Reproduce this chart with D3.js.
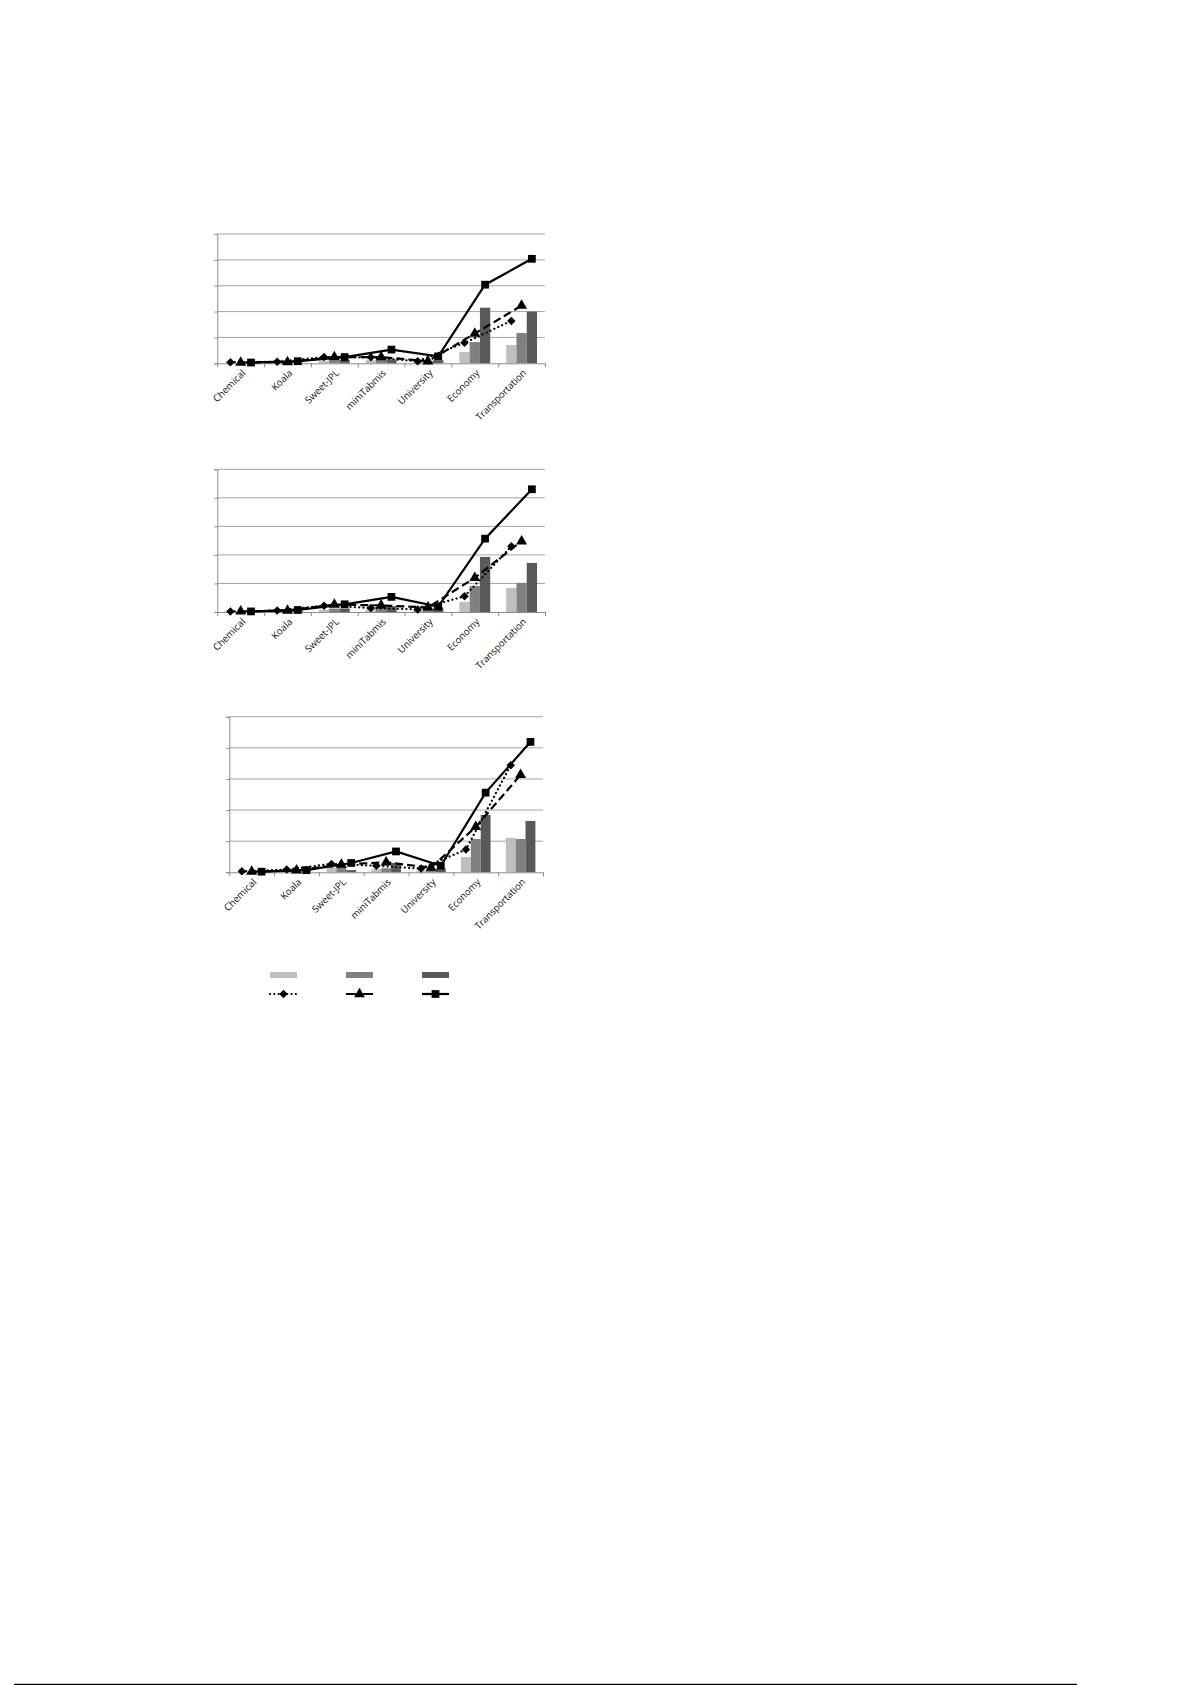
<!DOCTYPE html>
<html>
<head>
<meta charset="utf-8">
<script src="https://cdn.jsdelivr.net/npm/d3@7"></script>
<style>
  body { margin: 0; background: #fff; }
  svg { display: block; }
</style>
</head>
<body>
<script>
// categories along the x axis (same for all three panels)
var categories = ["Chemical", "Koala", "Sweet-JPL", "miniTabmis", "University", "Economy", "Transportation"];

// panel 1 (top)
var p1Light = [0.01, 0.02, 0.10, 0.12, 0.05, 0.44, 0.71];
var p1Mid   = [0.01, 0.02, 0.12, 0.15, 0.08, 0.82, 1.17];
var p1Dark  = [0.02, 0.03, 0.12, 0.15, 0.12, 2.15, 2.00];
var p1Dot   = [0.04, 0.06, 0.24, 0.23, 0.08, 0.79, 1.64];
var p1Dash  = [0.03, 0.05, 0.24, 0.24, 0.08, 1.15, 2.23];
var p1Solid = [0.03, 0.08, 0.24, 0.53, 0.27, 3.04, 4.04];

// panel 2 (middle)
var p2Light = [0.01, 0.02, 0.08, 0.10, 0.06, 0.35, 0.84];
var p2Mid   = [0.01, 0.02, 0.12, 0.16, 0.10, 0.91, 1.02];
var p2Dark  = [0.02, 0.03, 0.12, 0.20, 0.16, 1.93, 1.72];
var p2Dot   = [0.02, 0.05, 0.22, 0.14, 0.09, 0.55, 2.30];
var p2Dash  = [0.02, 0.05, 0.26, 0.23, 0.16, 1.20, 2.48];
var p2Solid = [0.02, 0.07, 0.27, 0.53, 0.19, 2.57, 4.30];

// panel 3 (bottom)
var p3Light = [0.01, 0.02, 0.15, 0.10, 0.05, 0.49, 1.11];
var p3Mid   = [0.01, 0.02, 0.18, 0.13, 0.08, 1.07, 1.07];
var p3Dark  = [0.02, 0.03, 0.07, 0.30, 0.12, 1.84, 1.65];
var p3Dot   = [0.03, 0.09, 0.27, 0.21, 0.12, 0.73, 3.44];
var p3Dash  = [0.02, 0.06, 0.25, 0.32, 0.15, 1.46, 3.13];
var p3Solid = [0.02, 0.07, 0.30, 0.67, 0.21, 2.56, 4.19];

var yTicks = [0, 1, 2, 3, 4, 5];

var barColors = ["#bfbfbf", "#808080", "#595959"];
var lineDash = ["0.1,4.2", "8,4", null];
var legendDash = ["0.1,4.2", "10,7", null];
// diamond = square turned 45 degrees (wider than d3's own diamond)
var markerShapes = [d3.symbolSquare, d3.symbolTriangle, d3.symbolSquare];
var markerSizes = [36, 52, 60];
var markerTurn = [45, 0, 0];

var W = 1192, H = 1685;
var svg = d3.select("body").append("svg")
    .attr("width", W)
    .attr("height", H);

var panels = [
  { x0: 217.3, x1: 545, top: 234, base: 363.3, bars: [p1Light, p1Mid, p1Dark], lines: [p1Dot, p1Dash, p1Solid] },
  { x0: 217.3, x1: 545, top: 469.3, base: 612, bars: [p2Light, p2Mid, p2Dark], lines: [p2Dot, p2Dash, p2Solid] },
  { x0: 229.3, x1: 543, top: 716.7, base: 872.3, bars: [p3Light, p3Mid, p3Dark], lines: [p3Dot, p3Dash, p3Solid] }
];

function marker(sel, si) {
  sel.attr("d", d3.symbol().type(markerShapes[si]).size(markerSizes[si]))
     .attr("fill", "#000");
}

panels.forEach(function(p) {
  var g = svg.append("g");

  var x = d3.scaleBand()
      .domain(categories)
      .range([p.x0, p.x1])
      .paddingInner(0.34)
      .paddingOuter(0.17);
  var xs = d3.scaleBand()
      .domain([0, 1, 2])
      .range([0, x.bandwidth()]);
  var y = d3.scaleLinear()
      .domain([0, 5])
      .range([p.base, p.top]);

  // gridlines
  g.selectAll("line.grid")
      .data(yTicks.slice(1))
      .enter()
      .append("line")
      .attr("class", "grid")
      .attr("x1", p.x0)
      .attr("x2", p.x1)
      .attr("y1", function(d){ return y(d); })
      .attr("y2", function(d){ return y(d); })
      .attr("stroke", "#a6a6a6")
      .attr("stroke-width", 1);

  // bars
  p.bars.forEach(function(series, si) {
    g.selectAll("rect.s" + si)
        .data(series)
        .enter()
        .append("rect")
        .attr("class", "s" + si)
        .attr("x", function(d, i){ return x(categories[i]) + xs(si); })
        .attr("width", xs.bandwidth())
        .attr("y", function(d){ return y(d); })
        .attr("height", function(d){ return p.base - y(d); })
        .attr("fill", barColors[si]);
  });

  // y axis: line + small ticks on the left, no labels
  var yAxis = d3.axisLeft(y)
      .tickValues(yTicks)
      .tickSize(3)
      .tickFormat("");
  g.append("g")
      .attr("transform", "translate(" + p.x0 + ",0)")
      .call(yAxis)
      .call(function(a){
        a.select(".domain").attr("stroke", "#8c8c8c");
        a.selectAll(".tick line").attr("stroke", "#8c8c8c");
      });

  // x axis: ticks between categories
  var xb = d3.scaleLinear().domain([0, categories.length]).range([p.x0, p.x1]);
  var xAxis = d3.axisBottom(xb)
      .tickValues(d3.range(0, categories.length + 1))
      .tickSize(4)
      .tickSizeOuter(0)
      .tickFormat("");
  g.append("g")
      .attr("transform", "translate(0," + p.base + ")")
      .call(xAxis)
      .call(function(a){
        a.select(".domain").attr("stroke", "#8c8c8c");
        a.selectAll(".tick line").attr("stroke", "#8c8c8c");
      });

  // category labels, rotated
  g.selectAll("text.cat")
      .data(categories)
      .enter()
      .append("text")
      .attr("class", "cat")
      .attr("text-anchor", "end")
      .attr("transform", function(d){
        return "translate(" + (x(d) + x.bandwidth() / 2 + 3) + "," + (p.base + 8) + ") rotate(-45)";
      })
      .attr("dy", "0.35em")
      .style("font-family", "'Open Sans', sans-serif")
      .style("font-size", "9.6px")
      .style("fill", "#111")
      .text(function(d){ return d; });

  // lines with markers, each aligned with its bar
  p.lines.forEach(function(series, si) {
    var cx = function(i){ return x(categories[i]) + xs(si) + xs.bandwidth() / 2; };
    var line = d3.line()
        .x(function(d, i){ return cx(i); })
        .y(function(d){ return y(d); });
    g.append("path")
        .datum(series)
        .attr("d", line)
        .attr("fill", "none")
        .attr("stroke", "#000")
        .attr("stroke-width", 2.2)
        .attr("stroke-linecap", si == 0 ? "round" : "butt")
        .attr("stroke-dasharray", lineDash[si]);
    g.selectAll("path.m" + si)
        .data(series)
        .enter()
        .append("path")
        .attr("class", "m" + si)
        .call(marker, si)
        .attr("transform", function(d, i){
          return "translate(" + cx(i) + "," + y(d) + ") rotate(" + markerTurn[si] + ")";
        });
  });
});

// legend (no text in the original)
var legendX = [270, 346, 422];
var legend = svg.append("g");
legend.selectAll("rect")
    .data(barColors)
    .enter()
    .append("rect")
    .attr("x", function(d, i){ return legendX[i]; })
    .attr("y", 972)
    .attr("width", 27)
    .attr("height", 6)
    .attr("fill", function(d){ return d; });
[0, 1, 2].forEach(function(i) {
  legend.append("line")
      .attr("x1", legendX[i])
      .attr("x2", legendX[i] + 27)
      .attr("y1", 994)
      .attr("y2", 994)
      .attr("stroke", "#000")
      .attr("stroke-width", 2.2)
      .attr("stroke-linecap", i == 0 ? "round" : "butt")
      .attr("stroke-dasharray", legendDash[i]);
  legend.append("path")
      .call(marker, i)
      .attr("transform", "translate(" + (legendX[i] + 13.5) + ",994) rotate(" + markerTurn[i] + ")");
});

// page rule at the bottom
svg.append("line")
    .attr("x1", 14)
    .attr("x2", 1077)
    .attr("y1", 1684.5)
    .attr("y2", 1684.5)
    .attr("stroke", "#000")
    .attr("stroke-width", 1.5);
</script>
</body>
</html>
